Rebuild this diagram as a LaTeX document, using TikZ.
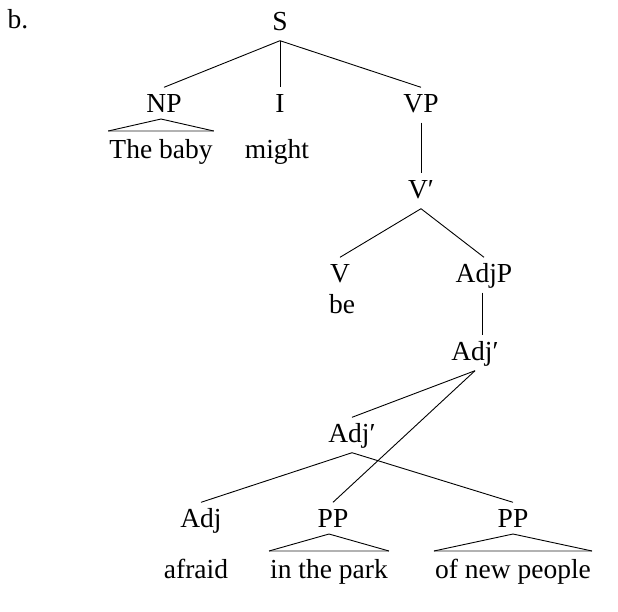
\documentclass[tikz,border=0pt]{standalone}
\usepackage{fontspec}
\setmainfont{Liberation Serif}
\usetikzlibrary{calc}
\begin{document}
\begin{tikzpicture}[x=1pt,y=-1pt,
  lab/.style={anchor=base, font=\fontsize{27.5}{30}\selectfont, inner xsep=1pt, inner ysep=5.5pt, text height=19pt, text depth=5pt},
  edge/.style={line width=0.9pt, black},
  tribase/.style={line width=1.3pt, gray!60}]
\useasboundingbox (0,0) rectangle (618,611);
\node[lab] (b) at (18,28) {b.};
\node[lab] (S) at (280,30) {S};
\node[lab] (NP) at (164,112) {NP};
\node[lab] (I) at (280,112) {I};
\node[lab] (VP) at (421,112) {VP};
\node[lab] (baby) at (161,158) {The baby};
\node[lab] (might) at (277,158) {might};
\node[lab] (Vbar) at (421,198) {V′};
\node[lab] (V) at (340,282) {V};
\node[lab] (be) at (342,313) {be};
\node[lab] (AdjP) at (484,282) {AdjP};
\node[lab] (Adjbar1) at (475,360) {Adj′};
\node[lab] (Adjbar2) at (352,442) {Adj′};
\node[lab] (Adj) at (201,527) {Adj};
\node[lab] (PP1) at (333,527) {PP};
\node[lab] (PP2) at (513,527) {PP};
\node[lab] (afraid) at (196,578) {afraid};
\node[lab] (park) at (329,578) {in the park};
\node[lab] (people) at (513,578) {of new people};
% branches
\draw[edge] (S.south) -- (NP.north);
\draw[edge] (S.south) -- (I.north);
\draw[edge] (S.south) -- (VP.north);
\draw[edge] (VP.south) -- (VP.south |- Vbar.north);
\draw[edge] (Vbar.south) -- (V.north);
\draw[edge] (Vbar.south) -- (AdjP.north);
\draw[edge] ([xshift=-2pt]AdjP.south) -- ([xshift=-2pt]AdjP.south |- Adjbar1.north);
\draw[edge] (Adjbar1.south) -- (Adjbar2.north);
\draw[edge] (Adjbar1.south) -- (PP1.north);
\draw[edge] (Adjbar2.south) -- (Adj.north);
\draw[edge] (Adjbar2.south) -- (PP2.north);
% triangles
\foreach \p/\l in {NP/baby, PP1/park, PP2/people}{
  \draw[tribase] ([yshift=27pt]\l.base west) -- ([yshift=27pt]\l.base east);
  \draw[edge] ([yshift=27pt]\l.base west) -- ([yshift=-7pt]\l.base |- \p.base) -- ([yshift=27pt]\l.base east);
}
\end{tikzpicture}
\end{document}
